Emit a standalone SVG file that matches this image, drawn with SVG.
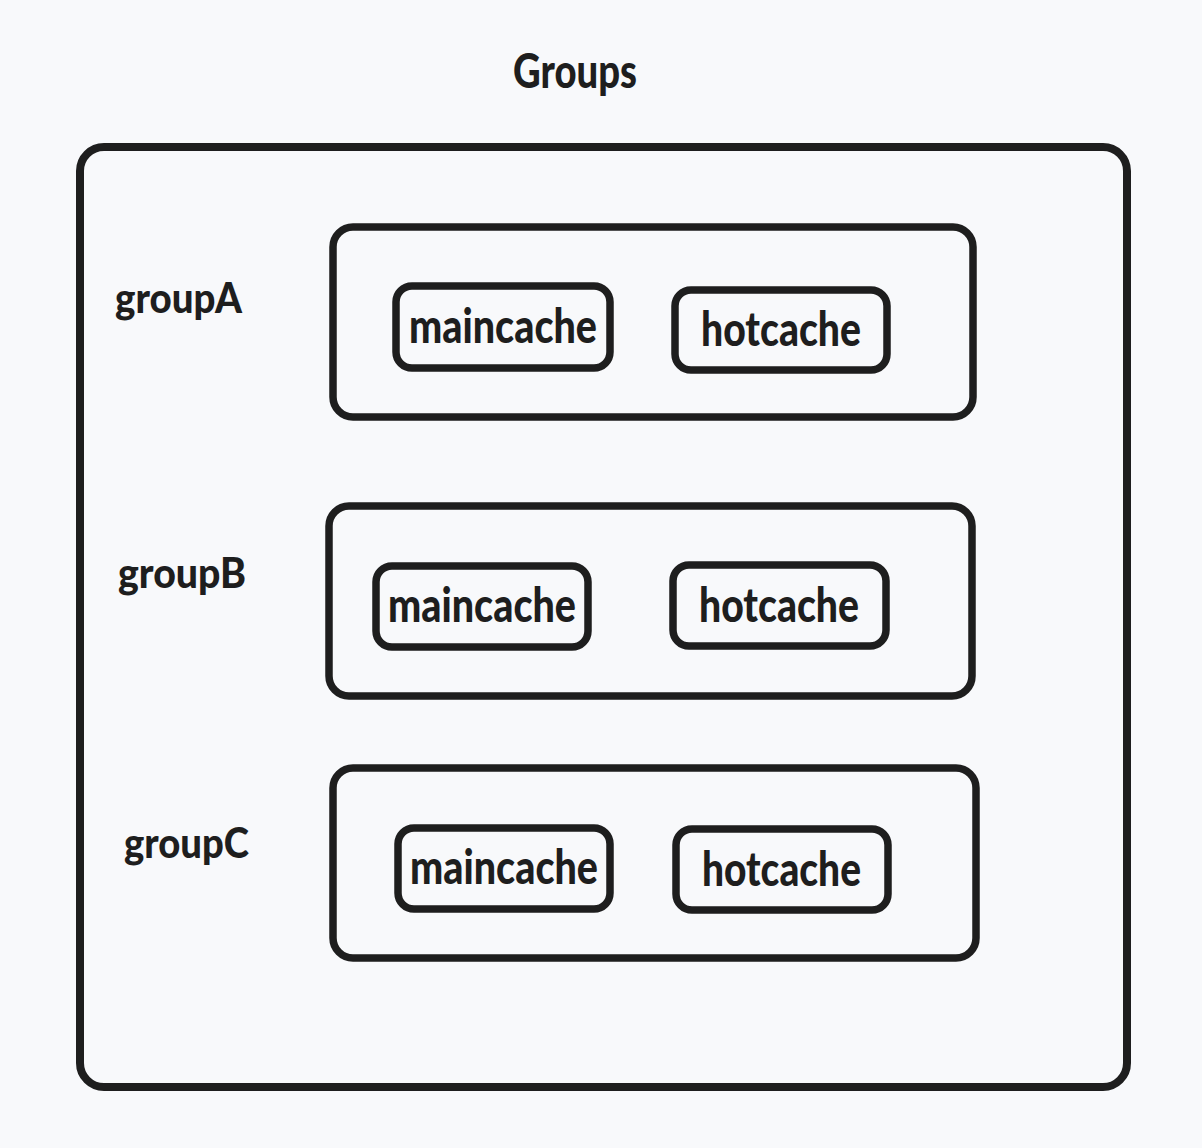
<svg xmlns="http://www.w3.org/2000/svg" width="1202" height="1148" viewBox="0 0 1202 1148">
<style>
.box{fill:none;stroke:#1e1e1e;stroke-width:7.5;stroke-linejoin:round}
.outer{stroke-width:8}
.t{font-family:"Lato","Noto Sans",sans-serif;font-weight:900;fill:#1e1e1e}
.cache{font-size:47px}
.lbl{font-size:42px}
</style>
<rect width="1202" height="1148" fill="#f8f9fb"/>
<g id="title"><text class="t" x="575" y="88" font-size="48" text-anchor="middle" textLength="124" lengthAdjust="spacingAndGlyphs">Groups</text></g>
<g id="groups-container"><rect class="box outer" x="80" y="147" width="1047" height="940" rx="24"/></g>
<g id="groupA">
<rect class="box" x="333" y="227" width="640" height="190" rx="20"/>
<text class="t lbl" x="115" y="313" textLength="127" lengthAdjust="spacingAndGlyphs">groupA</text>
<g id="groupA-maincache"><rect class="box" x="396" y="286" width="214" height="82" rx="16"/><text class="t cache" x="409" y="343" textLength="188" lengthAdjust="spacingAndGlyphs">maincache</text></g>
<g id="groupA-hotcache"><rect class="box" x="675" y="290" width="212" height="80" rx="16"/><text class="t cache" x="701" y="346" textLength="160" lengthAdjust="spacingAndGlyphs">hotcache</text></g>
</g>
<g id="groupB">
<rect class="box" x="329" y="506" width="643" height="190" rx="20"/>
<text class="t lbl" x="118" y="588" textLength="128" lengthAdjust="spacingAndGlyphs">groupB</text>
<g id="groupB-maincache"><rect class="box" x="376" y="566" width="212" height="81" rx="16"/><text class="t cache" x="388" y="622" textLength="188" lengthAdjust="spacingAndGlyphs">maincache</text></g>
<g id="groupB-hotcache"><rect class="box" x="673" y="565" width="213" height="81" rx="16"/><text class="t cache" x="699" y="622" textLength="160" lengthAdjust="spacingAndGlyphs">hotcache</text></g>
</g>
<g id="groupC">
<rect class="box" x="333" y="768" width="643" height="190" rx="20"/>
<text class="t lbl" x="124" y="858" textLength="125" lengthAdjust="spacingAndGlyphs">groupC</text>
<g id="groupC-maincache"><rect class="box" x="398" y="828" width="212" height="81" rx="16"/><text class="t cache" x="410" y="884" textLength="188" lengthAdjust="spacingAndGlyphs">maincache</text></g>
<g id="groupC-hotcache"><rect class="box" x="676" y="829" width="212" height="81" rx="16"/><text class="t cache" x="702" y="886" textLength="159" lengthAdjust="spacingAndGlyphs">hotcache</text></g>
</g>
<g id="connectors"></g>
</svg>
